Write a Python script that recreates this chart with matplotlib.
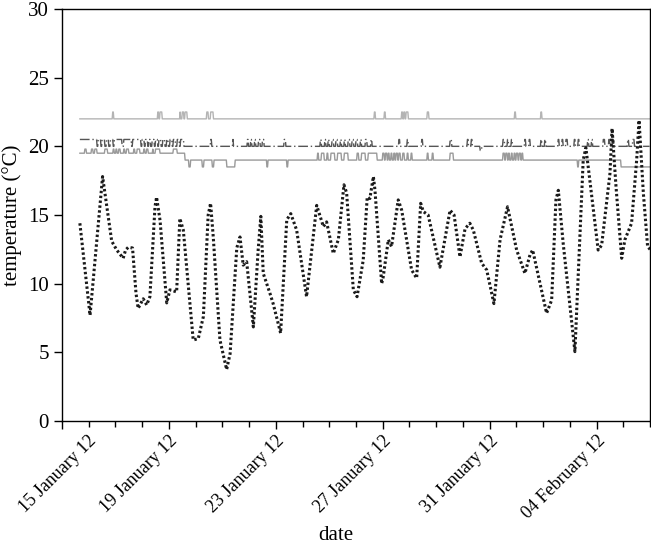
import numpy as np
import matplotlib
matplotlib.use("Agg")
import matplotlib.pyplot as plt
import matplotlib.dates as mdates
import matplotlib.transforms as mtransforms

""" Indoor set-points and outdoor temperature, 15 Jan - 6 Feb 2012. """

START = np.datetime64("2012-01-15T00:00")
T0, T1 = 0.67, 22.0   # day offsets where the records start / stop

# outdoor temperature, (day offset, degC)
out_days = [0.67, 1.05, 1.52, 1.86, 2.05, 2.29, 2.38, 2.48, 2.64, 2.77, 2.85, 3.04, 3.17, 3.29,
            3.48, 3.54, 3.67, 3.92, 4.04, 4.29, 4.41, 4.54, 4.91, 5.10, 5.29, 5.47, 5.56, 5.66,
            5.91, 6.16, 6.29, 6.54, 6.66, 6.78, 6.91, 7.16, 7.34, 7.44, 7.53, 7.78, 7.90, 8.18,
            8.41, 8.56, 8.78, 9.15, 9.53, 9.78, 9.90, 10.15, 10.34, 10.55, 10.65, 10.90, 11.04,
            11.27, 11.42, 11.52, 11.65, 11.71, 11.96, 12.02, 12.21, 12.33, 12.58, 12.71, 13.08,
            13.27, 13.42, 13.52, 13.70, 14.14, 14.52, 14.67, 14.89, 15.08, 15.26, 15.39, 15.70,
            15.89, 16.16, 16.39, 16.67, 17.01, 17.32, 17.51, 17.61, 18.13, 18.32, 18.48, 18.57,
            18.75, 19.19, 19.50, 19.60, 19.75, 20.06, 20.19, 20.50, 20.58, 20.73, 20.94, 21.06,
            21.31, 21.50, 21.59, 21.75, 21.91, 22.0]
out_temp = [14.4, 7.7, 17.8, 13.1, 12.45, 11.85, 12.45, 12.65, 12.6, 9.3, 8.2, 8.9, 8.45, 9.05,
            15.6, 16.3, 14.6, 8.6, 9.55, 9.4, 14.75, 13.9, 5.9, 6.0, 7.6, 15.0, 15.85, 13.4,
            5.9, 3.75, 4.9, 12.6, 13.4, 11.35, 11.6, 6.85, 12.45, 14.9, 10.75, 9.3, 8.55, 6.4,
            14.65, 15.1, 13.9, 9.05, 15.7, 14.15, 14.5, 12.2, 13.2, 17.2, 16.6, 9.55, 9.05,
            11.7, 16.3, 16.2, 17.8, 16.8, 10.0, 10.5, 13.2, 12.7, 16.1, 15.35, 11.0,
            10.4, 15.85, 15.25, 15.0, 11.2, 15.35, 15.0, 11.95, 14.0, 14.4, 13.9, 11.5,
            11.0, 8.55, 13.2, 15.6, 12.45, 10.75, 12.1, 12.45, 7.85, 8.8, 16.1, 16.8,
            12.95, 5.05, 19.0, 19.9, 17.5, 12.45, 12.8, 18.0, 21.3, 17.0, 11.85, 13.2,
            14.4, 19.0, 21.9, 16.6, 12.7, 12.5]

# set-point A: 22 degC with short bumps to 22.5
a_base = 22.0
a_events = [(1.88, 1.94, 22.5), (3.57, 3.62, 22.5), (3.66, 3.74, 22.5), (4.40, 4.44, 22.5),
            (4.50, 4.56, 22.5), (4.60, 4.68, 22.5), (5.40, 5.48, 22.5), (5.55, 5.65, 22.5),
            (11.68, 11.73, 22.5), (12.06, 12.10, 22.5), (12.70, 12.74, 22.5), (12.78, 12.82, 22.5),
            (12.86, 12.95, 22.5), (13.67, 13.72, 22.5), (16.93, 16.97, 22.5), (17.90, 17.95, 22.5)]

# set-point B: 20.5 then 20.0 after day 4.55, noisy
b_base = 20.5
b_events = [(4.55, 22.0, 20.0),
            (1.30, 1.34, 20.0), (1.45, 1.50, 20.0), (1.60, 1.66, 20.0), (1.75, 1.80, 20.0),
            (1.92, 1.96, 20.0), (2.25, 2.30, 20.0), (2.60, 2.64, 20.0), (2.95, 2.99, 20.0),
            (3.08, 3.12, 20.0), (3.20, 3.24, 20.0), (3.30, 3.36, 20.0), (3.45, 3.50, 20.0),
            (3.58, 3.62, 20.0), (3.70, 3.76, 20.0), (3.85, 3.90, 20.0), (3.98, 4.04, 20.0),
            (4.12, 4.16, 20.0), (4.25, 4.30, 20.0), (4.38, 4.44, 20.0),
            (5.55, 5.60, 20.5), (6.38, 6.42, 20.5), (6.94, 6.98, 20.5), (7.05, 7.10, 20.5),
            (7.20, 7.25, 20.5), (7.35, 7.40, 20.5), (7.50, 7.55, 20.5), (8.30, 8.36, 20.5),
            (9.65, 9.70, 20.5), (9.82, 9.86, 20.5), (9.95, 10.0, 20.5), (10.10, 10.15, 20.5),
            (10.25, 10.30, 20.5), (10.40, 10.45, 20.5), (10.55, 10.60, 20.5), (10.70, 10.76, 20.5),
            (10.85, 10.90, 20.5), (11.0, 11.05, 20.5), (11.15, 11.20, 20.5), (11.35, 11.40, 20.5),
            (11.55, 11.60, 20.5), (12.60, 12.64, 20.5), (12.92, 12.96, 20.5), (13.45, 13.50, 20.5),
            (14.52, 14.58, 20.5), (15.15, 15.20, 20.5), (15.30, 15.35, 20.5), (15.64, 15.70, 19.7),
            (16.50, 16.55, 20.5), (16.65, 16.70, 20.5), (16.80, 16.85, 20.5), (17.30, 17.34, 20.5),
            (17.48, 17.52, 20.5), (17.90, 17.95, 20.5), (18.05, 18.10, 20.5), (18.55, 18.60, 20.5),
            (18.70, 18.75, 20.5), (18.85, 18.90, 20.5), (19.15, 19.20, 20.5), (19.30, 19.35, 20.5),
            (19.65, 19.70, 20.5), (19.80, 19.85, 20.5), (20.25, 20.30, 20.5), (20.45, 20.50, 20.5),
            (20.60, 20.64, 20.5), (21.15, 21.20, 20.5), (21.35, 21.40, 20.5)]

# set-point C: 19.5, 19.0 after day 4.6, 18.5 at the end
c_base = 19.5
c_events = [(4.60, 20.9, 19.0), (20.9, 22.0, 18.5),
            (0.84, 0.90, 19.8), (1.10, 1.16, 19.8), (1.22, 1.30, 19.8), (1.60, 1.70, 19.8),
            (1.92, 1.96, 19.8), (2.02, 2.06, 19.8), (2.12, 2.18, 19.8), (2.30, 2.34, 19.8),
            (2.42, 2.50, 19.8), (2.68, 2.72, 19.8), (2.80, 2.90, 19.8), (3.05, 3.10, 19.8),
            (3.16, 3.22, 19.8), (3.38, 3.42, 19.8), (3.50, 3.66, 19.8), (4.15, 4.30, 19.8),
            (4.75, 4.80, 18.5), (5.25, 5.30, 18.5), (5.62, 5.68, 18.5), (6.15, 6.47, 18.5),
            (7.65, 7.70, 18.5), (8.40, 8.45, 18.5),
            (9.55, 9.60, 19.5), (9.70, 9.80, 19.5), (9.90, 9.95, 19.5), (10.05, 10.20, 19.5),
            (10.30, 10.45, 19.5), (10.55, 10.70, 19.5), (11.04, 11.10, 19.5), (11.20, 11.34, 19.5),
            (11.45, 11.78, 19.5), (12.00, 12.05, 19.5), (12.10, 12.15, 19.5), (12.20, 12.25, 19.5),
            (12.30, 12.35, 19.5), (12.40, 12.45, 19.5), (12.50, 12.55, 19.5), (12.60, 12.65, 19.5),
            (12.75, 12.80, 19.5), (12.90, 12.95, 19.5), (13.05, 13.10, 19.5), (13.66, 13.70, 19.5),
            (13.84, 13.88, 19.5), (14.52, 14.63, 19.5), (16.50, 16.55, 19.5), (16.60, 16.65, 19.5),
            (16.70, 16.75, 19.5), (16.80, 16.85, 19.5), (16.90, 16.95, 19.5), (17.00, 17.05, 19.5),
            (17.10, 17.15, 19.5), (17.20, 17.25, 19.5), (19.28, 19.33, 18.5)]

yticks = [0, 5, 10, 15, 20, 25, 30]
label_days = [0, 4, 8, 12, 16, 20]


def to_dates(days):
  return START + (np.asarray(days) * 24 * 60).astype("timedelta64[m]")


def build_series(base, events):
  t = np.arange(T0, T1 + 1e-9, 1 / 48)
  v = np.full(t.shape, base)
  for lo, hi, val in events:
    v[(t >= lo) & (t < hi)] = val
  return to_dates(t), v


plt.rcParams["font.family"] = ["Liberation Serif", "DejaVu Serif"]
plt.rcParams["font.size"] = 15

fig = plt.figure(figsize=(6.51, 5.45), dpi=100)
ax = fig.add_axes([0.0952, 0.2275, 0.9033, 0.756])

ta, va = build_series(a_base, a_events)
tb, vb = build_series(b_base, b_events)
tc, vc = build_series(c_base, c_events)
ax.plot(ta, va, color="#b4b4b4", lw=1)
ax.plot(tb, vb, color="#555555", lw=1, linestyle=(0, (7, 2, 1, 2)))
ax.plot(tc, vc, color="#9a9a9a", lw=1)
ax.plot(to_dates(out_days), out_temp, color="#1a1a1a", lw=2.2, linestyle=(0, (0.8, 0.8)))

ax.set_xlim(to_dates([0.0])[0], to_dates([22.0])[0])
ax.set_ylim(0, 30)
ax.set_yticks(yticks)
ax.xaxis.set_major_locator(matplotlib.ticker.FixedLocator(
  mdates.date2num(to_dates(label_days)).tolist()))
ax.xaxis.set_minor_locator(mdates.DayLocator())
ax.xaxis.set_major_formatter(mdates.DateFormatter("%d %B %y"))
ax.tick_params(axis="both", which="major", direction="out", length=6, width=1)
ax.tick_params(axis="x", which="minor", direction="out", length=4, width=1)
ax.tick_params(axis="x", which="major", labelsize=13, pad=2)
plt.setp(ax.get_xticklabels(), rotation=45, ha="right", rotation_mode="anchor")
for sp in ax.spines.values():
  sp.set_linewidth(1)

ax.set_xlabel("date")
ax.xaxis.set_label_coords(0.466, -0.255)
ax.set_ylabel("temperature (\u00b0C)")
ax.yaxis.set_label_coords(-0.068, 0.5)

fig.canvas.draw()
# first label would run off the left edge, nudge it right like the original
first = ax.get_xticklabels()[0]
first.set_transform(first.get_transform() + mtransforms.ScaledTranslation(0.26, 0, fig.dpi_scale_trans))

fig.savefig("out.png", dpi=100)
